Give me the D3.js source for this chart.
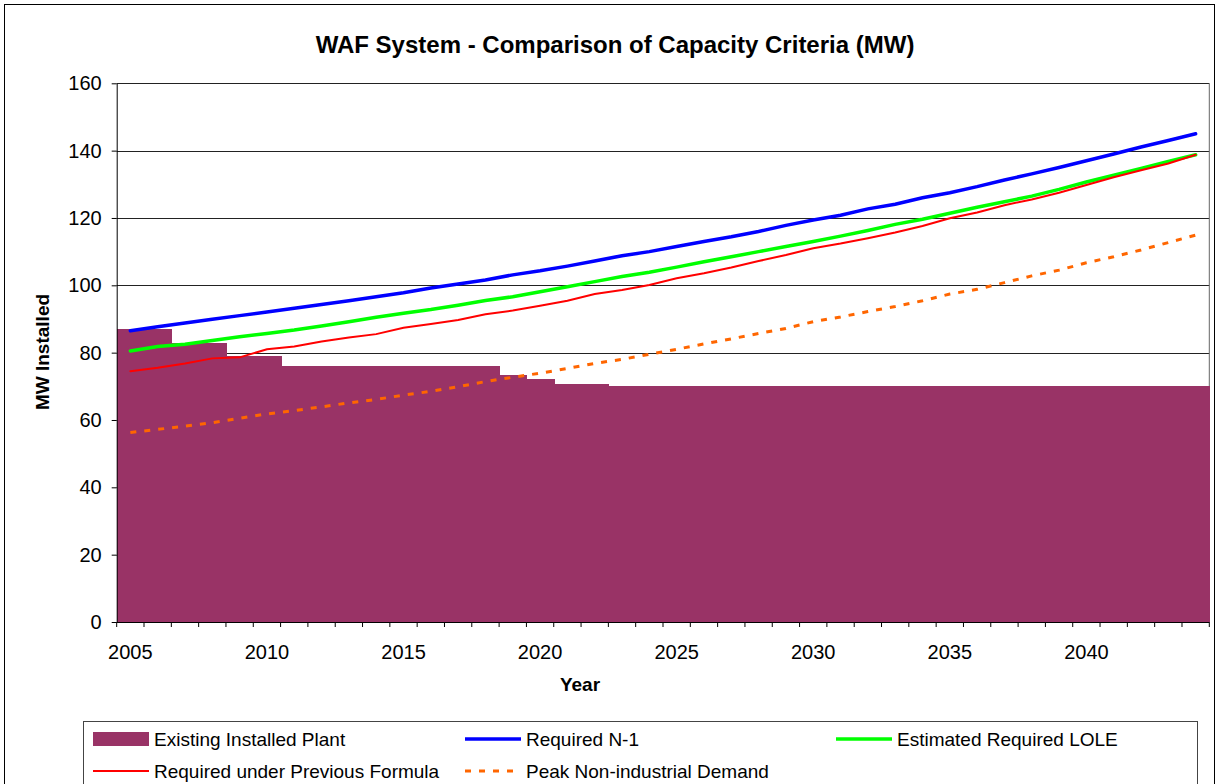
<!DOCTYPE html>
<html>
<head>
  <meta charset="utf-8">
  <title>WAF System - Comparison of Capacity Criteria (MW)</title>
  <style>
    body { margin: 0; background: #fff; }
    svg { display: block; font-family: "Liberation Sans", Arial, sans-serif; }
    .axis text { font-size: 20px; fill: #000; }
    .axis path, .axis line { stroke: #000; }
  </style>
</head>
<body>
<div id="container"></div>
<script src="https://d3js.org/d3.v7.min.js"></script>
<script>
//******* Chart data *******
var years = [2005, 2006, 2007, 2008, 2009, 2010, 2011, 2012, 2013, 2014,
  2015, 2016, 2017, 2018, 2019, 2020, 2021, 2022, 2023, 2024,
  2025, 2026, 2027, 2028, 2029, 2030, 2031, 2032, 2033, 2034,
  2035, 2036, 2037, 2038, 2039, 2040, 2041, 2042, 2043, 2044];
var yearLabels = [2005, 2010, 2015, 2020, 2025, 2030, 2035, 2040];
var yTicks = [0, 20, 40, 60, 80, 100, 120, 140, 160];

var existingPlant = [87, 87, 83, 83, 79, 79, 76, 76, 76, 76,
  76, 76, 76, 76, 73.5, 72.3, 70.8, 70.8, 70, 70,
  70, 70, 70, 70, 70, 70, 70, 70, 70, 70,
  70, 70, 70, 70, 70, 70, 70, 70, 70, 70];
var requiredN1 = [86.5, 87.7, 88.8, 89.9, 91.0, 92.1, 93.2, 94.3, 95.4, 96.6,
  97.8, 99.2, 100.4, 101.6, 103.1, 104.3, 105.7, 107.2, 108.8, 110,
  111.5, 113, 114.4, 116, 117.8, 119.4, 120.8, 122.7, 124.1, 126,
  127.5, 129.3, 131.3, 133.1, 135, 137, 139, 141.1, 143, 145];
var requiredLOLE = [80.5, 81.8, 82.5, 83.6, 84.7, 85.7, 86.7, 87.9, 89.2, 90.5,
  91.7, 92.8, 94.1, 95.5, 96.6, 98.1, 99.6, 101.1, 102.6, 103.9,
  105.4, 107, 108.5, 110, 111.5, 113, 114.6, 116.3, 118.1, 119.6,
  121.4, 123.2, 124.8, 126.5, 128.5, 130.7, 132.7, 134.7, 136.8, 138.8];
var requiredPrev = [74.5, 75.5, 76.8, 78.3, 78.6, 81, 81.8, 83.3, 84.5, 85.5,
  87.4, 88.5, 89.7, 91.4, 92.5, 93.9, 95.4, 97.4, 98.6, 100.1,
  102.1, 103.6, 105.3, 107.2, 109, 111, 112.4, 114, 115.7, 117.6,
  119.9, 121.6, 123.8, 125.5, 127.5, 129.8, 132.1, 134.2, 136.2, 138.8];
var peakDemand = [56.3, 57.2, 58.2, 59.2, 60.5, 61.8, 62.8, 63.9, 65.1, 66.1,
  67.4, 68.5, 69.9, 71.4, 72.7, 73.9, 75.3, 76.8, 78, 79.5,
  81, 82.6, 84.1, 85.7, 87.2, 89.2, 90.6, 92.2, 93.7, 95.4,
  97.4, 98.8, 100.8, 102.8, 104.5, 106.7, 108.5, 110.5, 112.7, 114.9];

const width = 1219, height = 784;
const plot = { left: 116.7, right: 1209.3, top: 83.3, bottom: 622 };

var svg = d3.select("#container")
  .append("svg")
  .attr("width", width)
  .attr("height", height);

// outer chart border
svg.append("rect")
  .attr("x", 4.5).attr("y", 4.5)
  .attr("width", 1210).attr("height", 820)
  .attr("fill", "#fff")
  .attr("stroke", "#000");

//******* Scales *******
var x = d3.scaleBand()
  .domain(years)
  .range([plot.left, plot.right])
  .padding(0);
var y = d3.scaleLinear()
  .domain([0, 160])
  .range([plot.bottom, plot.top]);
var cx = function(d, i) { return x(years[i]) + x.bandwidth() / 2; };

//******* Gridlines + plot border *******
svg.append("g")
  .selectAll("line")
  .data(yTicks.slice(1))
  .join("line")
  .attr("x1", plot.left).attr("x2", plot.right)
  .attr("y1", d => Math.round(y(d)) + 0.5)
  .attr("y2", d => Math.round(y(d)) + 0.5)
  .attr("stroke", "#222")
  .attr("stroke-width", 1);
svg.append("line")
  .attr("x1", plot.right).attr("x2", plot.right)
  .attr("y1", plot.top).attr("y2", plot.bottom)
  .attr("stroke", "#666");

//******* Existing plant bars (no gap between categories) *******
svg.append("g")
  .attr("shape-rendering", "crispEdges")
  .selectAll("rect")
  .data(existingPlant)
  .join("rect")
  .attr("x", (d, i) => x(years[i]))
  .attr("width", x.bandwidth() + 1)
  .attr("y", d => y(d))
  .attr("height", d => y(0) - y(d))
  .attr("fill", "#993366");

//******* Lines *******
var line = d3.line()
  .x(cx)
  .y(d => y(d));

svg.append("path")
  .attr("d", line(peakDemand))
  .attr("fill", "none")
  .attr("stroke", "#ff6600")
  .attr("stroke-width", 3)
  .attr("stroke-dasharray", "6,8");
svg.append("path")
  .attr("d", line(requiredN1))
  .attr("fill", "none")
  .attr("stroke", "#0000ff")
  .attr("stroke-width", 3.5)
  .attr("stroke-linecap", "round");
svg.append("path")
  .attr("d", line(requiredLOLE))
  .attr("fill", "none")
  .attr("stroke", "#00ff00")
  .attr("stroke-width", 3.5)
  .attr("stroke-linecap", "round");
svg.append("path")
  .attr("d", line(requiredPrev))
  .attr("fill", "none")
  .attr("stroke", "#ff0000")
  .attr("stroke-width", 2)
  .attr("stroke-linecap", "round");

//******* Axes *******
svg.append("g")
  .attr("class", "axis")
  .attr("transform", `translate(${plot.left},0)`)
  .call(d3.axisLeft(y).tickValues(yTicks).tickSize(5).tickPadding(10).tickSizeOuter(0))
  .call(g => g.select(".domain").attr("stroke", "#000"));

// x tick marks sit between categories
svg.append("g")
  .selectAll("line")
  .data(years.concat([null]))
  .join("line")
  .attr("x1", (d, i) => i < years.length ? x(d) : plot.right)
  .attr("x2", (d, i) => i < years.length ? x(d) : plot.right)
  .attr("y1", plot.bottom).attr("y2", plot.bottom + 5)
  .attr("stroke", "#000");

var xAxis = svg.append("g")
  .attr("class", "axis")
  .attr("transform", `translate(0,${plot.bottom})`)
  .call(d3.axisBottom(x).tickValues(yearLabels).tickSize(0).tickPadding(23).tickSizeOuter(0));
xAxis.select(".domain").attr("stroke", "#000").attr("d", `M${plot.left},0.5H${plot.right}`);

//******* Titles *******
svg.append("text")
  .attr("x", 615).attr("y", 53)
  .attr("text-anchor", "middle")
  .style("font-size", "24px")
  .style("font-weight", "bold")
  .text("WAF System - Comparison of Capacity Criteria (MW)");
svg.append("text")
  .attr("x", 580).attr("y", 691)
  .attr("text-anchor", "middle")
  .style("font-size", "19px")
  .style("font-weight", "bold")
  .text("Year");
svg.append("text")
  .attr("transform", "translate(49,352) rotate(-90)")
  .attr("text-anchor", "middle")
  .style("font-size", "19px")
  .style("font-weight", "bold")
  .text("MW Installed");

//******* Legend *******
var legend = svg.append("g");
legend.append("rect")
  .attr("x", 83.5).attr("y", 721.5)
  .attr("width", 1114).attr("height", 100)
  .attr("fill", "#fff")
  .attr("stroke", "#444");

var legendItems = [
  { name: "Existing Installed Plant", type: "bar", color: "#993366", col: 0, row: 0 },
  { name: "Required N-1", type: "line", color: "#0000ff", w: 3.5, col: 1, row: 0 },
  { name: "Estimated Required LOLE", type: "line", color: "#00ff00", w: 3.5, col: 2, row: 0 },
  { name: "Required under Previous Formula", type: "line", color: "#ff0000", w: 2, col: 0, row: 1 },
  { name: "Peak Non-industrial Demand", type: "dash", color: "#ff6600", w: 3, col: 1, row: 1 }
];
var colX = [93, 465, 836];
var rowY = [739, 771];

legendItems.forEach(function(d) {
  var lx = colX[d.col], ly = rowY[d.row];
  if (d.type === "bar") {
    legend.append("rect")
      .attr("x", lx).attr("y", ly - 7)
      .attr("width", 56).attr("height", 14)
      .attr("fill", d.color);
  } else {
    legend.append("line")
      .attr("x1", lx).attr("x2", lx + 56)
      .attr("y1", ly).attr("y2", ly)
      .attr("stroke", d.color)
      .attr("stroke-width", d.w)
      .attr("stroke-dasharray", d.type === "dash" ? "6,8" : null);
  }
  legend.append("text")
    .attr("x", lx + 61).attr("y", ly + 7)
    .style("font-size", "19px")
    .text(d.name);
});
</script>
</body>
</html>
